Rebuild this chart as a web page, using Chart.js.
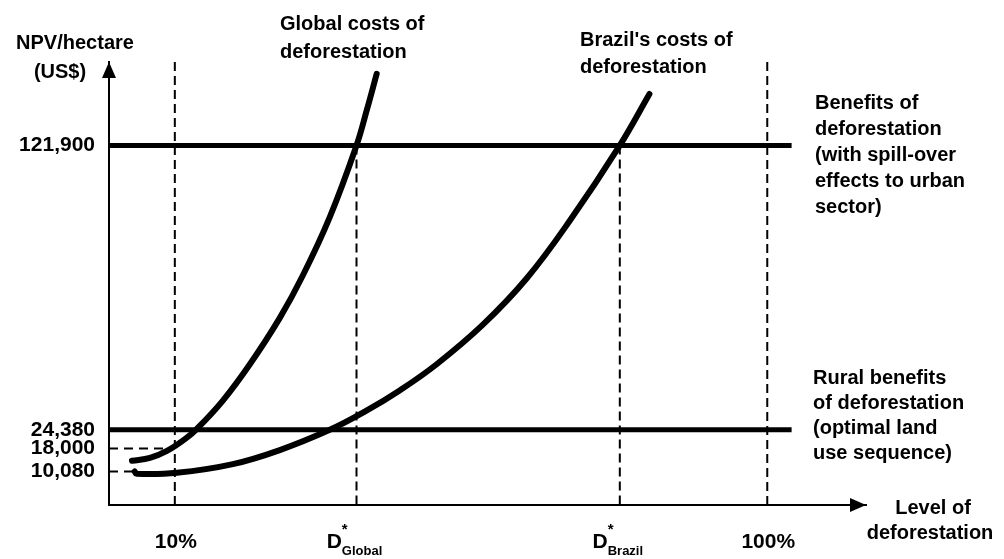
<!DOCTYPE html>
<html>
<head>
<meta charset="utf-8">
<script src="https://cdn.jsdelivr.net/npm/chart.js@4"></script>
<style>
    body { margin: 0; background: #ffffff; }
    canvas { display: block; }
</style>
</head>
<body>
<canvas id="deforestationChart" width="1004" height="559"></canvas>
<script>
// level of deforestation (%) vs NPV/hectare (US$)
const globalCostX = [3.49, 6.22, 8.8, 11.53, 13.36, 17.3, 21.4, 25.95, 29.44, 33.54, 37.6, 39.16, 40.67];
const globalCostY = [13760, 14750, 17150, 21190, 24726, 34410, 46860, 62760, 77290, 97340, 121900, 134000, 146450];

const brazilCostX = [3.9, 4.2, 10.32, 18.82, 25.95, 33.54, 38.85, 44.16, 49.78, 56.76, 63.44, 69.97, 77.6, 82.1];
const brazilCostY = [10080, 9300, 9656, 12626, 17435, 24380, 30600, 37870, 46860, 60340, 76250, 95960, 121900, 139530];

const benefitLevels = [121900, 24380];
const benefitEndX = 103.7;

const guideLevels = [18000, 10080];
const guideEndX = [9.3, 3.9];

const yTickValues = [10080, 18000, 24380, 121900];

const xMarkValues = [10, 37.6, 77.6, 100];
const xMarkLabels = ["10%", "D", "D", "100%"];
const xMarkSubs = ["", "Global", "Brazil", ""];
const xMarkFullHeight = [true, false, false, true];

const benefitsLabel = ["Benefits of", "deforestation", "(with spill-over", "effects to urban", "sector)"];
const ruralLabel = ["Rural benefits", "of deforestation", "(optimal land", "use sequence)"];
const globalLabel = ["Global costs of", "deforestation"];
const brazilLabel = ["Brazil's costs of", "deforestation"];

const FONT = "'Liberation Sans', Arial, sans-serif";
const Y_MIN = -1400;
const Y_MAX = 150500;

function toPoints(xs, ys) {
    return xs.map((x, i) => ({ x: x, y: ys[i] }));
}

const datasets = [];

datasets.push({
    label: "Global costs of deforestation",
    data: toPoints(globalCostX, globalCostY),
    borderColor: "#000",
    borderWidth: 6,
    tension: 0.4,
    borderCapStyle: "round",
});

datasets.push({
    label: "Brazil's costs of deforestation",
    data: toPoints(brazilCostX, brazilCostY),
    borderColor: "#000",
    borderWidth: 6,
    tension: 0.4,
    borderCapStyle: "round",
});

benefitLevels.forEach((level) => {
    datasets.push({
        label: "benefit " + level,
        data: [{ x: 0, y: level }, { x: benefitEndX, y: level }],
        borderColor: "#000",
        borderWidth: 5,
    });
});

guideLevels.forEach((level, i) => {
    datasets.push({
        label: "guide " + level,
        data: [{ x: 0, y: level }, { x: guideEndX[i], y: level }],
        borderColor: "#000",
        borderWidth: 2,
        borderDash: [9, 6],
    });
});

xMarkValues.forEach((value, i) => {
    datasets.push({
        label: "mark " + value,
        data: [
            { x: value, y: xMarkFullHeight[i] ? Y_MAX : benefitLevels[0] },
            { x: value, y: Y_MIN },
        ],
        borderColor: "#000",
        borderWidth: 2,
        borderDash: [9, 5],
    });
});

const annotationPlugin = {
    id: "annotations",
    afterDraw(chart) {
        const ctx = chart.ctx;
        const area = chart.chartArea;
        const xScale = chart.scales.x;

        ctx.save();
        ctx.fillStyle = "#000";

        // arrowheads
        ctx.beginPath();
        ctx.moveTo(area.left, area.top);
        ctx.lineTo(area.left - 7, area.top + 16);
        ctx.lineTo(area.left + 7, area.top + 16);
        ctx.closePath();
        ctx.fill();

        ctx.beginPath();
        ctx.moveTo(area.right, area.bottom);
        ctx.lineTo(area.right - 16, area.bottom - 7);
        ctx.lineTo(area.right - 16, area.bottom + 7);
        ctx.closePath();
        ctx.fill();

        ctx.textBaseline = "middle";

        // y-axis title
        ctx.font = "bold 20px " + FONT;
        ctx.textAlign = "center";
        ctx.fillText("NPV/hectare", 75, 43);
        ctx.fillText("(US$)", 60, 72);

        // x-axis title
        ctx.fillText("Level of", 933, 508);
        ctx.fillText("deforestation", 930, 533);

        // x marks
        xMarkValues.forEach((value, i) => {
            const px = xScale.getPixelForValue(value);
            const y = 542;
            if (!xMarkSubs[i]) {
                ctx.font = "bold 21px " + FONT;
                ctx.textAlign = "center";
                ctx.fillText(xMarkLabels[i], px + 1, y);
                return;
            }
            ctx.font = "bold 21px " + FONT;
            const dWidth = ctx.measureText(xMarkLabels[i]).width;
            ctx.font = "bold 13px " + FONT;
            const subWidth = ctx.measureText(xMarkSubs[i]).width;
            const left = px - (dWidth + subWidth) / 2 - 2;
            ctx.textAlign = "left";
            ctx.font = "bold 21px " + FONT;
            ctx.fillText(xMarkLabels[i], left, y);
            ctx.font = "bold 15px " + FONT;
            ctx.fillText("*", left + dWidth, y - 12);
            ctx.font = "bold 13px " + FONT;
            ctx.fillText(xMarkSubs[i], left + dWidth, y + 9);
        });

        // curve and line labels
        ctx.font = "bold 20px " + FONT;
        ctx.textAlign = "left";
        globalLabel.forEach((line, i) => ctx.fillText(line, 280, 24 + i * 28));
        brazilLabel.forEach((line, i) => ctx.fillText(line, 580, 40 + i * 27));
        benefitsLabel.forEach((line, i) => ctx.fillText(line, 815, 103 + i * 26));
        ruralLabel.forEach((line, i) => ctx.fillText(line, 813, 378 + i * 25));

        ctx.restore();
    },
};

new Chart(document.getElementById("deforestationChart"), {
    type: "scatter",
    data: { datasets: datasets },
    plugins: [annotationPlugin],
    options: {
        responsive: false,
        animation: false,
        showLine: true,
        elements: { point: { radius: 0 } },
        layout: { padding: { top: 62, right: 138, left: 0, bottom: 0 } },
        plugins: { legend: { display: false }, tooltip: { enabled: false } },
        scales: {
            x: {
                type: "linear",
                min: 0,
                max: 115,
                grid: { display: false, drawTicks: false },
                border: { display: true, color: "#000", width: 2 },
                ticks: { display: false },
                afterFit(scale) {
                    scale.height = 54;
                },
            },
            y: {
                type: "linear",
                min: Y_MIN,
                max: Y_MAX,
                grid: { display: false, drawTicks: false },
                border: { display: true, color: "#000", width: 2 },
                afterBuildTicks(scale) {
                    scale.ticks = yTickValues.map((v) => ({ value: v }));
                },
                ticks: {
                    color: "#000",
                    padding: 14,
                    font: { family: FONT, size: 21, weight: "bold" },
                    callback: (value) => value.toLocaleString("en-US"),
                },
                afterFit(scale) {
                    scale.width = 109;
                },
            },
        },
    },
});
</script>
</body>
</html>
